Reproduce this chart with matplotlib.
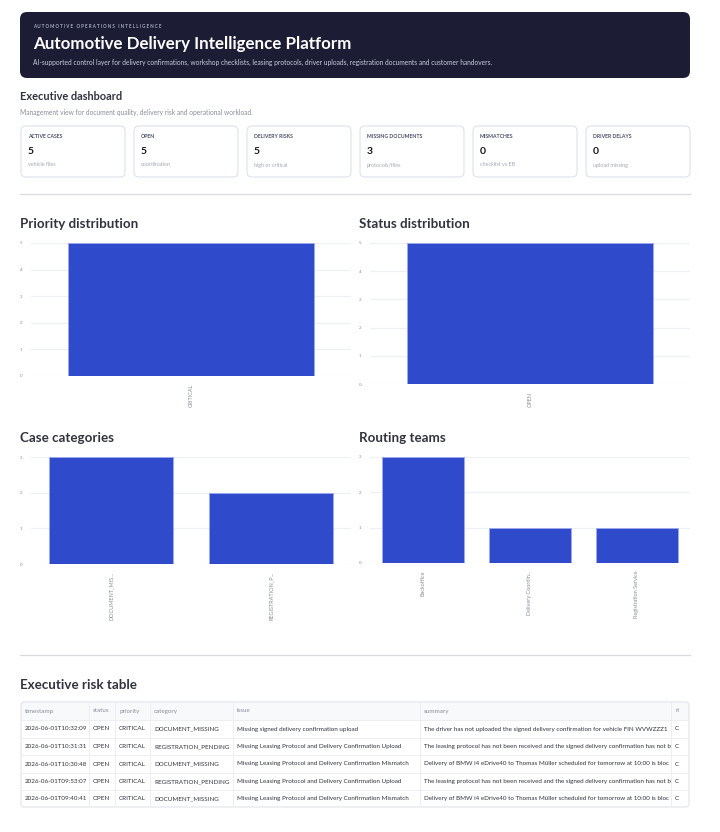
import matplotlib.pyplot as plt
from matplotlib.patches import FancyBboxPatch, Rectangle

W, H = 720, 832
plt.rcParams['font.family'] = ['Lato', 'DejaVu Sans']

# --- data -------------------------------------------------------------
kpi_labels = ["ACTIVE CASES", "OPEN", "DELIVERY RISKS", "MISSING DOCUMENTS", "MISMATCHES", "DRIVER DELAYS"]
kpi_values = [5, 5, 5, 3, 0, 0]
kpi_notes = ["vehicle files", "coordination", "high or critical", "protocols/files", "checklist vs EB", "upload missing"]

priority_labels = ["CRITICAL"]
priority_counts = [5]
status_labels = ["OPEN"]
status_counts = [5]
category_labels = ["DOCUMENT_MIS...", "REGISTRATION_P..."]
category_counts = [3, 2]
team_labels = ["Backoffice", "Delivery Coordin...", "Registration Service"]
team_counts = [3, 1, 1]

table_columns = ["timestamp", "status", "priority", "category", "issue", "summary", "risk_level"]
table_timestamps = ["2026-06-01T10:32:09", "2026-06-01T10:31:31", "2026-06-01T10:30:48",
                    "2026-06-01T09:53:07", "2026-06-01T09:40:41"]
table_status = ["OPEN"] * 5
table_priority = ["CRITICAL"] * 5
table_category = ["DOCUMENT_MISSING", "REGISTRATION_PENDING", "DOCUMENT_MISSING",
                  "REGISTRATION_PENDING", "DOCUMENT_MISSING"]
table_issue = ["Missing signed delivery confirmation upload",
               "Missing Leasing Protocol and Delivery Confirmation Upload",
               "Missing Leasing Protocol and Delivery Confirmation Mismatch",
               "Missing Leasing Protocol and Delivery Confirmation Upload",
               "Missing Leasing Protocol and Delivery Confirmation Mismatch"]
table_summary = ["The driver has not uploaded the signed delivery confirmation for vehicle FIN WVWZZZ1KZ6W000123.",
                 "The leasing protocol has not been received and the signed delivery confirmation has not been uploaded.",
                 "Delivery of BMW i4 eDrive40 to Thomas Müller scheduled for tomorrow at 10:00 is blocked.",
                 "The leasing protocol has not been received and the signed delivery confirmation has not been uploaded.",
                 "Delivery of BMW i4 eDrive40 to Thomas Müller scheduled for tomorrow at 10:00 is blocked."]
table_risk = ["CRITICAL"] * 5

# --- layout helpers ---------------------------------------------------
DARK = "#31333F"
MUTED = "#8a8d9c"
BAR = "#2f4bcc"

fig = plt.figure(figsize=(W / 100, H / 100), dpi=100)
fig.patch.set_facecolor("white")
bg = fig.add_axes([0, 0, 1, 1])
bg.set_xlim(0, W)
bg.set_ylim(H, 0)
bg.axis("off")


def px_axes(x0, y0, x1, y1):
    return fig.add_axes([x0 / W, 1 - y1 / H, (x1 - x0) / W, (y1 - y0) / H])


# header banner
bg.add_patch(FancyBboxPatch((20, 12), 670, 66, boxstyle="round,pad=0,rounding_size=7",
                            fc="#1c1d34", ec="none"))
bg.text(33, 27, "A U T O M O T I V E   O P E R A T I O N S   I N T E L L I G E N C E",
        fontsize=3.25, color="#a9adc6", va="center", fontweight="bold")
bg.text(33, 44, "Automotive Delivery Intelligence Platform", fontsize=12.2,
        color="white", fontweight="bold", va="center")
bg.text(33, 62, "AI-supported control layer for delivery confirmations, workshop checklists, leasing protocols, "
        "driver uploads, registration documents and customer handovers.",
        fontsize=4.75, color="#c9cde0", va="center")

bg.text(20, 96, "Executive dashboard", fontsize=7.9, color=DARK, fontweight="bold", va="center")
bg.text(20, 112, "Management view for document quality, delivery risk and operational workload.",
        fontsize=4.75, color=MUTED, va="center")

# KPI cards
for i, (lab, val, note) in enumerate(zip(kpi_labels, kpi_values, kpi_notes)):
    x = 21 + i * 113
    bg.add_patch(FancyBboxPatch((x, 126), 104, 51, boxstyle="round,pad=0,rounding_size=5",
                                fc="white", ec="#dde2ee", lw=0.8))
    bg.text(x + 7, 137, lab, fontsize=3.7, color="#4a4e69", fontweight="bold", va="center")
    bg.text(x + 7, 152, str(val), fontsize=7.5, color="#14151f", fontweight="bold", va="center")
    bg.text(x + 7, 165, note, fontsize=3.9, color="#a4a8b6", va="center")

bg.plot([20, 690], [194, 194], color="#d8dae0", lw=0.9)
bg.plot([20, 690], [655, 655], color="#d8dae0", lw=0.9)

# charts
charts = [
    ("Priority distribution", priority_labels, priority_counts, (20, 224), (31, 243, 351, 376)),
    ("Status distribution", status_labels, status_counts, (359, 224), (370, 243, 690, 384)),
    ("Case categories", category_labels, category_counts, (20, 438), (31, 457, 351, 564)),
    ("Routing teams", team_labels, team_counts, (359, 438), (370, 457, 690, 563)),
]
for title, labels, counts, (tx, ty), box in charts:
    bg.text(tx, ty, title, fontsize=9.6, color=DARK, fontweight="bold", va="center")
    ax = px_axes(*box)
    ax.bar(range(len(labels)), counts, width=0.77, color=BAR, edgecolor="#9eaaee", linewidth=0.6, zorder=2)
    ax.set_xlim(-0.5, len(labels) - 0.5)
    ax.set_ylim(0, max(counts))
    ax.set_yticks(range(max(counts) + 1))
    ax.set_xticks(range(len(labels)))
    ax.set_xticklabels(labels, rotation=90, ha="center", va="top")
    ax.tick_params(length=0, labelsize=3.2, labelcolor=MUTED, pad=6)
    ax.tick_params(axis="x", labelsize=4.0, pad=5.5)
    ax.grid(axis="y", color="#eff0f4", lw=0.9, zorder=0)
    ax.set_axisbelow(True)
    for s in ax.spines.values():
        s.set_visible(False)

# risk table
bg.text(20, 685, "Executive risk table", fontsize=9.6, color=DARK, fontweight="bold", va="center")
col_x = [21, 89, 115, 150, 233, 420, 671, 689]
row_y = [702, 720, 738, 755, 773, 790, 807]
bg.add_patch(Rectangle((21, 702), 668, 18, fc="#f8f9fb", ec="none"))
bg.add_patch(FancyBboxPatch((21, 702), 668, 105, boxstyle="round,pad=0,rounding_size=3",
                            fc="none", ec="#e2e4ea", lw=0.8))
for y in row_y[1:-1]:
    bg.plot([21, 689], [y, y], color="#eceef2", lw=0.7)
for x in col_x[1:-1]:
    bg.plot([x, x], [702, 807], color="#eceef2", lw=0.7)

# cells are cut at the column edge like the scrolled data grid
renderer = fig.canvas.get_renderer()
columns_data = [table_timestamps, table_status, table_priority, table_category,
                table_issue, table_summary, table_risk]
for c, name in enumerate(table_columns):
    right = min(col_x[c + 1], 679)
    limit = bg.transData.transform((right, 0))[0]
    cells = [name] + columns_data[c]
    for r, s in enumerate(cells):
        y0, y1 = row_y[r], row_y[r + 1]
        t = bg.text(col_x[c] + 4, (y0 + y1) / 2, s, fontsize=4.5,
                    color=MUTED if r == 0 else DARK, va="center")
        while len(s) > 1 and t.get_window_extent(renderer).x1 > limit:
            s = s[:-1]
            t.set_text(s)

fig.savefig("out.png", dpi=100)
